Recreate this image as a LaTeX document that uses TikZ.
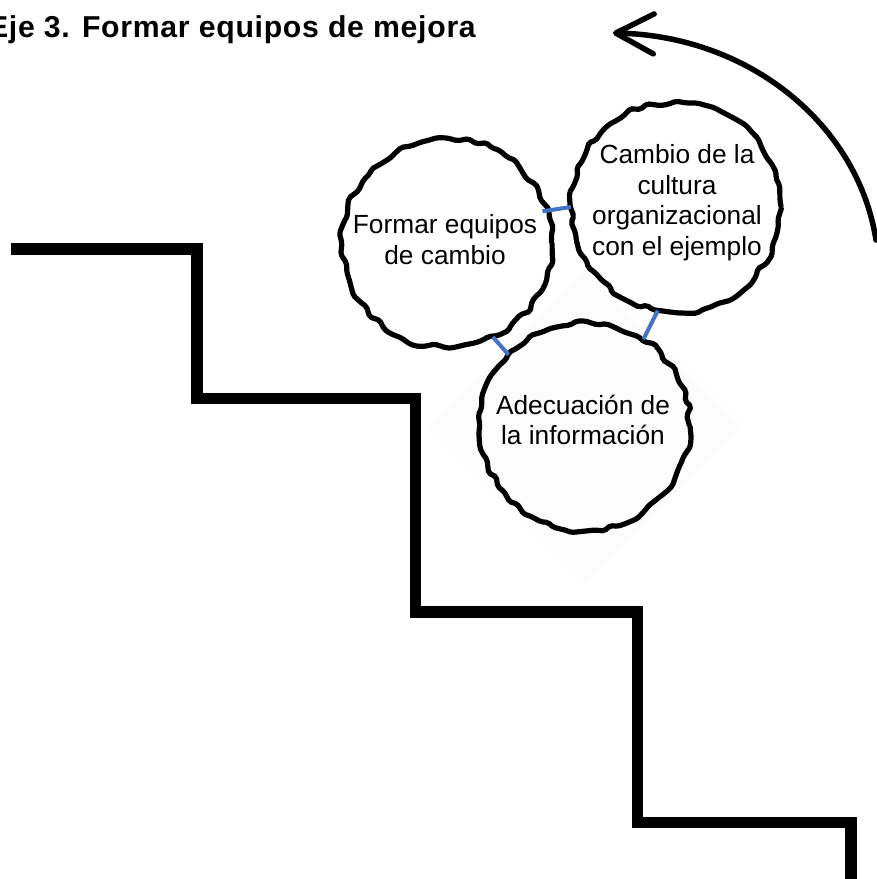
\documentclass[tikz,border=0pt]{standalone}
\usepackage{fontspec}
\setmainfont{Liberation Sans}
\newfontface\titlefont[LetterSpace=2.4]{Liberation Sans Bold}
\usetikzlibrary{arrows.meta,decorations.pathmorphing,shapes.geometric}
\definecolor{linkblue}{HTML}{4472C4}
\definecolor{faint}{HTML}{FCFCFC}
\newcommand{\lifted}[3]{\hspace*{#2}\raisebox{#1}[\height][\depth]{\begin{tabular}{@{}c@{}}#3\end{tabular}}}
\tikzset{
  wavy/.style={circle,draw=black,line width=5.2pt,minimum size=209pt,inner sep=0pt,outer sep=0pt,align=center,
    font=\fontsize{26.3pt}{30.5pt}\selectfont,rounded corners=2pt,
    decorate,decoration={random steps,segment length=9pt,amplitude=3pt}},
  stair/.style={draw=black,line width=11.6pt,line join=miter},
  link/.style={draw=linkblue,line width=4pt},
  sweep/.style={draw=black,line width=5.5pt,line cap=round,
    -{Straight Barb[length=38pt,width=40pt,line width=5.5pt,round]}},
  backdiamond/.style={diamond,fill=faint,draw=none,minimum size=314pt,inner sep=0pt},
  title/.style={font=\fontsize{30.2pt}{33pt}\titlefont,anchor=east,inner sep=0pt}
}
\begin{document}
\begin{tikzpicture}[x=1pt,y=-1pt]
\useasboundingbox (0,0) rectangle (877,879);
\pgfmathsetseed{5}
\node[backdiamond] (glow) at (585,427) {};
\node[wavy] (formar) at (447,243) {\lifted{0pt}{-4pt}{Formar equipos\\de cambio}};
\node[wavy] (cambio) at (676,207) {\lifted{3.5pt}{2pt}{Cambio de la\\cultura\\organizacional\\con el ejemplo}};
\node[wavy] (adec) at (585,426) {\lifted{2.5pt}{-4pt}{Adecuación de\\la información}};
\draw[link,shorten <=-4pt] (formar.18) -- (cambio.180);
\draw[link] (formar.-64) -- (adec.137);
\draw[link] (cambio.-100) -- (adec.56);
\node[title] (ttl) at (476,30) {Eje 3. Formar equipos de mejora};
\coordinate (s0) at (11,249);
\coordinate (s1) at (197,249);
\coordinate (s2) at (197,398.5);
\coordinate (s3) at (415.5,398.5);
\coordinate (s4) at (415.5,612);
\coordinate (s5) at (637.5,612);
\coordinate (s6) at (637.5,822.5);
\coordinate (s7) at (851,822.5);
\coordinate (s8) at (851,879);
\draw[stair] (s0) -- (s1) -- (s2) -- (s3) -- (s4) -- (s5) -- (s6) -- (s7) -- (s8);
\coordinate (a0) at (876,240);
\coordinate (a1) at (613,33);
\draw[sweep] (a0) .. controls (858,125) and (750,36) .. (a1);
\end{tikzpicture}
\end{document}
